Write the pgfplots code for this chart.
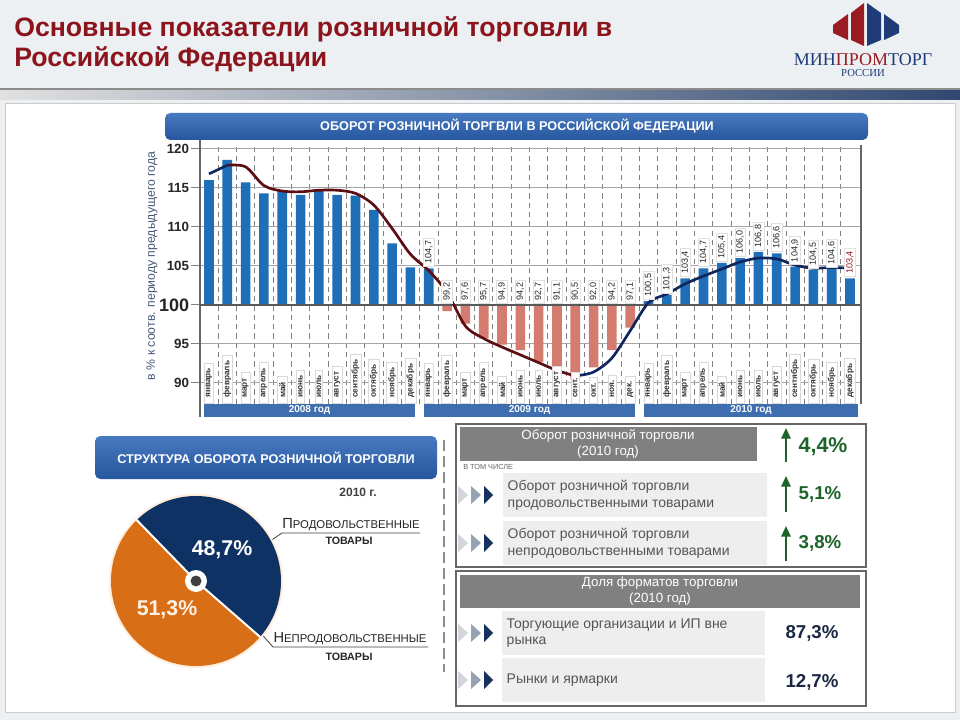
\documentclass[border=0pt]{standalone}
\usepackage{fontspec}
\setmainfont{Liberation Sans}
\newfontfamily\serifx{Liberation Serif}
\usepackage{pgfplots}
\pgfplotsset{compat=1.18}
\usepackage{pgfplotstable}
\usetikzlibrary{arrows.meta}
\definecolor{barblue}{RGB}{31,111,184}
\definecolor{barred}{RGB}{212,124,112}
\definecolor{linered}{RGB}{92,14,18}
\definecolor{linenavy}{RGB}{16,38,92}
\definecolor{titlered}{RGB}{140,20,28}
\definecolor{bandblue}{RGB}{62,110,176}
\definecolor{bannertop}{RGB}{72,122,192}
\definecolor{bannerbot}{RGB}{38,86,158}
\definecolor{pienavy}{RGB}{14,50,100}
\definecolor{pieorange}{RGB}{216,110,22}
\definecolor{headgray}{RGB}{128,128,128}
\definecolor{rowgray}{RGB}{238,238,238}
\definecolor{txtgray}{RGB}{85,85,85}
\definecolor{upgreen}{RGB}{28,100,40}
\definecolor{valnavy}{RGB}{26,40,70}
\definecolor{bggray}{RGB}{236,240,243}
\definecolor{logored}{RGB}{155,27,34}
\definecolor{logoblue}{RGB}{31,60,120}
\definecolor{ylabcol}{RGB}{70,90,120}
\definecolor{tri1}{RGB}{210,213,218}
\definecolor{tri2}{RGB}{150,162,180}
\definecolor{tri3}{RGB}{22,48,96}

% bars above 100 (blue)
\pgfplotstableread{
x v
0 116.0
1 118.6
2 115.7
3 114.3
4 114.6
5 114.1
6 114.7
7 114.1
8 114.0
9 112.2
10 107.9
11 104.8
12 104.7
24 100.5
25 101.3
26 103.4
27 104.7
28 105.4
29 106.0
30 106.8
31 106.6
32 104.9
33 104.5
34 104.6
35 103.4
}\barsup
% bars below 100 (red)
\pgfplotstableread{
x v
13 99.2
14 97.6
15 95.7
16 94.9
17 94.2
18 92.7
19 91.1
20 90.5
21 92.0
22 94.2
23 97.1
}\barsdown
% value labels
\pgfplotstableread{
x v
12 104.7
13 99.2
14 97.6
15 95.7
16 94.9
17 94.2
18 92.7
19 91.1
20 90.5
21 92.0
22 94.2
23 97.1
24 100.5
25 101.3
26 103.4
27 104.7
28 105.4
29 106.0
30 106.8
31 106.6
32 104.9
33 104.5
34 104.6
}\labs
\pgfplotstableread{
x v
35 103.4
}\labsred
% trend line
\pgfplotstableread{
x v
0 116.8
1 117.9
}\trendA
\pgfplotstableread{
x v
1 117.9
2 117.7
3 115.3
4 114.6
5 114.5
6 114.7
7 114.7
8 114.3
9 112.8
10 109.8
11 106.5
12 104.4
13 101.6
14 97.3
15 95.7
16 94.6
17 93.6
18 92.6
19 91.6
20 90.9
}\trendB
\pgfplotstableread{
x v
20 90.9
21 91.4
22 93.2
23 96.7
24 100.3
25 101.4
26 102.7
27 103.7
28 104.6
29 105.5
30 106.0
31 105.9
32 105.1
33 104.7
34 104.8
35 104.7
}\trendC
\pgfplotstableread{
x m
0 январь
1 февраль
2 март
3 апрель
4 май
5 июнь
6 июль
7 август
8 сентябрь
9 октябрь
10 ноябрь
11 декабрь
12 январь
13 февраль
14 март
15 апрель
16 май
17 июнь
18 июль
19 август
20 сент.
21 окт.
22 ноя.
23 дек.
24 январь
25 февраль
26 март
27 апрель
28 май
29 июнь
30 июль
31 август
32 сентябрь
33 октябрь
34 ноябрь
35 декабрь
}\months

\newcommand{\tri}[2]{%
  \fill[tri1] (#1,{#2-9}) -- ({#1+10},#2) -- (#1,{#2+9}) -- cycle;
  \fill[tri2] ({#1+13},{#2-9}) -- ({#1+23},#2) -- ({#1+13},{#2+9}) -- cycle;
  \fill[tri3] ({#1+26},{#2-9}) -- ({#1+35},#2) -- ({#1+26},{#2+9}) -- cycle;}

\begin{document}
\begin{tikzpicture}
\path[use as bounding box] (0,0) rectangle (720pt,-540pt);
\begin{scope}[x=0.75pt,y=-0.75pt]
  \fill[bggray] (0,0) rectangle (960,720);
  \shade[left color=black!12, right color={rgb,255:red,48;green,72;blue,112}] (0,89) rectangle (960,100);
  \draw[black!45, line width=0.8] (0,89) -- (960,89);
  \fill[white] (5,103) rectangle (955,712);
  \draw[black!20] (5,103) rectangle (955,712);
  % title
  \node[anchor=base west, font=\bfseries\fontsize{20}{20}\selectfont, text=titlered, inner sep=0] at (14,37) {Основные показатели розничной торговли в};
  \node[anchor=base west, font=\bfseries\fontsize{20}{20}\selectfont, text=titlered, inner sep=0] at (14,67) {Российской Федерации};
  % logo
  \fill[logored] (833,25) -- (848,14) -- (848,40) -- (833,33) -- cycle;
  \fill[logored] (851,13) -- (864,3) -- (864,46) -- (851,40) -- cycle;
  \fill[logoblue] (867,3) -- (881,13) -- (881,40) -- (867,46) -- cycle;
  \fill[logoblue] (884,14) -- (899,25) -- (899,33) -- (884,40) -- cycle;
  \node[font=\serifx\fontsize{13.5}{13.5}\selectfont, text=logoblue, inner sep=0] at (863,60) {МИН\textcolor{logored}{ПРОМ}ТОРГ};
  \node[font=\serifx\fontsize{8}{8}\selectfont, text=logoblue, inner sep=0] at (863,73) {РОССИИ};
  % chart banner
  \shade[rounded corners=4pt, top color=bannertop, bottom color=bannerbot] (165,113) rectangle (868,140);
  \node[text=white, font=\bfseries\fontsize{9.5}{10}\selectfont] at (517,126.5) {ОБОРОТ РОЗНИЧНОЙ ТОРГВЛИ В РОССИЙСКОЙ ФЕДЕРАЦИИ};
  % y label
  \node[rotate=90, text=ylabcol, font=\fontsize{9.2}{10}\selectfont] at (152,266) {в \% к соотв. периоду предыдущего года};
  % year bands
  \fill[bandblue] (204,404) rectangle (415,417);
  \fill[bandblue] (424,404) rectangle (635,417);
  \fill[bandblue] (644,404) rectangle (858,417);
  \node[text=white, font=\bfseries\fontsize{7.5}{8}\selectfont] at (309.5,410.5) {2008 год};
  \node[text=white, font=\bfseries\fontsize{7.5}{8}\selectfont] at (529.5,410.5) {2009 год};
  \node[text=white, font=\bfseries\fontsize{7.5}{8}\selectfont] at (751,410.5) {2010 год};
  \draw[black!60, line width=1.5pt] (200,140) -- (200,417);
  % lower-left banner
  \shade[rounded corners=4pt, top color=bannertop, bottom color=bannerbot] (95,436) rectangle (437,479);
  \node[text=white, font=\bfseries\fontsize{9.5}{10}\selectfont] at (266,457.5) {СТРУКТУРА ОБОРОТА РОЗНИЧНОЙ ТОРГОВЛИ};
  \draw[black!45, line width=0.8, dash pattern=on 8pt off 4pt] (444,440) -- (444,672);
  \node[text=black!75, font=\bfseries\fontsize{9}{9}\selectfont] at (358,492) {2010 г.};
  % leader lines and pie labels
  \draw[black!75, line width=0.6] (260,548) -- (282,533) -- (420,533);
  \draw[black!75, line width=0.6] (258,630) -- (273,647) -- (428,647);
  \node[text=black!85, font=\fontsize{8.5}{9}\selectfont, inner sep=0] at (351,525) {{\fontsize{11}{11}\selectfont П}РОДОВОЛЬСТВЕННЫЕ};
  \node[text=black!85, font=\bfseries\fontsize{8}{9}\selectfont, inner sep=0] at (349,541) {ТОВАРЫ};
  \node[text=black!85, font=\fontsize{8.5}{9}\selectfont, inner sep=0] at (350,639) {{\fontsize{11}{11}\selectfont Н}ЕПРОДОВОЛЬСТВЕННЫЕ};
  \node[text=black!85, font=\bfseries\fontsize{8}{9}\selectfont, inner sep=0] at (349,657) {ТОВАРЫ};
  % right box 1
  \draw[black!60, line width=0.8] (456,424) rectangle (866,567);
  \fill[headgray] (460,427) rectangle (757,461);
  \node[text=white, align=center, font=\fontsize{10}{12}\selectfont] at (608,444) {Оборот розничной торговли\\(2010 год)};
  \node[anchor=west, text=black!60, font=\fontsize{5.5}{6}\selectfont, inner sep=0] at (463,467) {В ТОМ ЧИСЛЕ};
  \fill[rowgray] (503,473) rectangle (767,517);
  \fill[rowgray] (503,521) rectangle (767,565);
  \node[anchor=west, align=left, text=txtgray, font=\fontsize{10.5}{12.5}\selectfont] at (503,495) {Оборот розничной торговли\\продовольственными товарами};
  \node[anchor=west, align=left, text=txtgray, font=\fontsize{10.5}{12.5}\selectfont] at (503,543) {Оборот розничной торговли\\непродовольственными товарами};
  \tri{458}{495}
  \tri{458}{543}
  \draw[-{Triangle[width=7pt,length=8pt]}, line width=1.6pt, upgreen] (786,462) -- (786,428);
  \draw[-{Triangle[width=7pt,length=8pt]}, line width=1.6pt, upgreen] (786,512) -- (786,476);
  \draw[-{Triangle[width=7pt,length=8pt]}, line width=1.6pt, upgreen] (786,561) -- (786,526);
  \node[anchor=west, text=upgreen, font=\bfseries\fontsize{16}{16}\selectfont] at (794,447) {4,4\%};
  \node[anchor=west, text=upgreen, font=\bfseries\fontsize{14}{14}\selectfont] at (794,494) {5,1\%};
  \node[anchor=west, text=upgreen, font=\bfseries\fontsize{14}{14}\selectfont] at (794,543) {3,8\%};
  % right box 2
  \draw[black!60, line width=0.8] (456,571) rectangle (866,706);
  \fill[headgray] (460,575) rectangle (860,608);
  \node[text=white, align=center, font=\fontsize{10}{12}\selectfont] at (660,591.5) {Доля форматов торговли\\(2010 год)};
  \fill[rowgray] (502,611) rectangle (765,655);
  \fill[rowgray] (502,658) rectangle (765,702);
  \node[anchor=west, align=left, text=txtgray, font=\fontsize{10.5}{12.5}\selectfont] at (502,633) {Торгующие организации и ИП вне\\рынка};
  \node[anchor=west, align=left, text=txtgray, font=\fontsize{10.5}{12.5}\selectfont] at (502,680) {Рынки и ярмарки};
  \tri{458}{633}
  \tri{458}{680}
  \node[text=valnavy, font=\bfseries\fontsize{14}{14}\selectfont] at (812,633) {87,3\%};
  \node[text=valnavy, font=\bfseries\fontsize{14}{14}\selectfont] at (812,682) {12,7\%};
\end{scope}
% pie (48.7% food, 51.3% non-food)
\begin{scope}[shift={(147pt,-435.75pt)}, x=0.75pt, y=0.75pt]
  \pgfmathsetmacro{\food}{48.7}
  \pgfmathsetmacro{\sa}{134.2}
  \pgfmathsetmacro{\ea}{\sa-3.6*\food}
  \fill[orange!15] (0,0) circle (87);
  \fill[pienavy] (0,0) -- (\sa:85) arc[start angle=\sa, end angle=\ea, radius=85] -- cycle;
  \fill[pieorange] (0,0) -- (\ea:85) arc[start angle=\ea, end angle=\sa-360, radius=85] -- cycle;
  \draw[white, line width=1.5pt] (0,0) -- (\sa:86);
  \draw[white, line width=1.5pt] (0,0) -- (\ea:86);
  \fill[white] (0,0) circle (11);
  \fill[black!75] (0,0) circle (5.5);
  \node[text=white, font=\bfseries\fontsize{16}{16}\selectfont] at (26,31) {48,7\%};
  \node[text=orange!10, font=\bfseries\fontsize{16}{16}\selectfont] at (-29,-29) {51,3\%};
\end{scope}
\begin{axis}[
  at={(150pt,-303pt)}, anchor=south west,
  scale only axis, width=495.75pt, height=194.25pt,
  xmin=-0.49, xmax=35.6, ymin=-12.7, ymax=20.5,
  clip=false,
  separate axis lines,
  x axis line style={draw=none},
  y axis line style={draw=black!60, line width=1.5pt},
  ytick={-10,-5,0,5,10,15,20},
  yticklabels={90,95,{\fontsize{13.5}{13.5}\selectfont 100},105,110,115,120},
  yticklabel style={font=\bfseries\fontsize{10}{11}\selectfont, text=black!85, inner sep=1pt},
  ytick pos=left, tick align=outside, major tick length=7pt,
  ytick style={draw=black!50, line width=0.8pt},
  ymajorgrids, y grid style={draw=black!35, line width=0.8pt},
  xtick={0.5,1.5,2.5,3.5,4.5,5.5,6.5,7.5,8.5,9.5,10.5,12.5,13.5,14.5,15.5,16.5,17.5,18.5,19.5,20.5,21.5,22.5,24.5,25.5,26.5,27.5,28.5,29.5,30.5,31.5,32.5,33.5,34.5},
  xticklabels={},
  xtick style={draw=none},
  xmajorgrids, x grid style={draw=black!50, line width=0.6pt, dash pattern=on 4pt off 3pt},
  extra x ticks={11.5,23.5}, extra x tick labels={},
  extra x tick style={grid=major, major grid style={solid, draw=black!65, line width=1.2pt}, tick style={draw=none}},
]
\addplot[ybar, bar width=7.2pt, fill=barblue, draw=none] table[x=x, y expr=\thisrow{v}-100] {\barsup};
\addplot[ybar, bar width=7.2pt, fill=barred, draw=none] table[x=x, y expr=\thisrow{v}-100] {\barsdown};
\draw[black!65, line width=1.4pt] (axis cs:-0.49,0) -- (axis cs:35.6,0);
% month labels
\addplot[draw=none, mark=none, nodes near coords, point meta=explicit symbolic,
  every node near coord/.append style={rotate=90, anchor=west, fill=white, draw=black!15, line width=0.4pt,
    font=\bfseries\fontsize{6.2}{6.5}\selectfont, text=black!80, inner xsep=4pt, inner ysep=1.2pt}]
  table[x=x, y expr=-12.6, meta=m] {\months};
% value labels
\addplot[draw=none, mark=none, nodes near coords={\pgfmathprintnumber[fixed,fixed zerofill,precision=1,use comma,assume math mode=true]{\pgfplotspointmeta}}, point meta=explicit,
  every node near coord/.append style={rotate=90, anchor=west, fill=white, draw=black!12, line width=0.4pt,
    font=\fontsize{6.8}{7.5}\selectfont, text=black!85, inner xsep=2pt, inner ysep=1.2pt, outer xsep=1.5pt}]
  table[x=x, y expr={max(\thisrow{v}-100,0)}, meta=v] {\labs};
\addplot[draw=none, mark=none, nodes near coords={\pgfmathprintnumber[fixed,fixed zerofill,precision=1,use comma,assume math mode=true]{\pgfplotspointmeta}}, point meta=explicit,
  every node near coord/.append style={rotate=90, anchor=west, fill=white, draw=black!12, line width=0.4pt,
    font=\fontsize{6.8}{7.5}\selectfont, text=titlered, inner xsep=2pt, inner ysep=1.2pt, outer xsep=1.5pt}]
  table[x=x, y expr={max(\thisrow{v}-100,0)}, meta=v] {\labsred};
% trend line
\addplot[linenavy, line width=2pt, smooth, mark=none] table[x=x, y expr=\thisrow{v}-100] {\trendA};
\addplot[linered, line width=2pt, smooth, mark=none] table[x=x, y expr=\thisrow{v}-100] {\trendB};
\addplot[linenavy, line width=2pt, smooth, mark=none] table[x=x, y expr=\thisrow{v}-100] {\trendC};
\end{axis}
\end{tikzpicture}
\end{document}
